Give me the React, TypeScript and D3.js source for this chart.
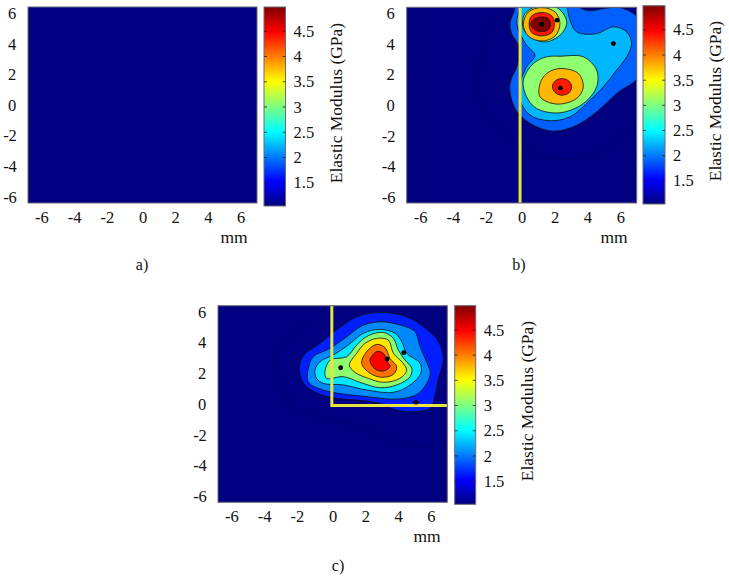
import React, { useEffect, useRef } from "react";
import * as d3 from "d3";

type Pt = [number, number];

// Axis ticks
const xTicks = [-6, -4, -2, 0, 2, 4, 6];
const yTicks = [-6, -4, -2, 0, 2, 4, 6];
const barTicks = [1.5, 2, 2.5, 3, 3.5, 4, 4.5];
const barLabels = ["1.5", "2", "2.5", "3", "3.5", "4", "4.5"];

// Panel b) contour outlines (mm)
const bBlue: Pt[] = [[-0.2, 6.64], [-0.51, 5.99], [-0.71, 5.34], [-0.61, 4.68], [-0.2, 3.92], [-0.1, 3.38], [-0.3, 2.51], [-0.71, 1.42], [-0.61, 0.33], [-0.2, -0.54], [0.71, -1.31], [1.93, -1.7], [3.35, -1.31], [4.56, -0.44], [5.78, 0.76], [7.2, 1.96], [7.4, 4.5], [7.2, 5.56], [6.8, 5.99], [5.98, 6.38], [4.97, 6.32], [4.16, 6.17], [3.55, 6.38], [3.45, 6.64]];
const bLight: Pt[] = [[0.2, 6.64], [-0.2, 5.99], [-0.3, 5.34], [-0.1, 4.68], [0.3, 3.92], [0.81, 3.27], [0.3, 2.51], [-0.1, 1.42], [-0.1, 0.33], [0.51, -0.65], [1.72, -1.02], [2.94, -0.76], [4.16, 0.33], [4.97, 1.2], [5.78, 2.29], [6.39, 3.16], [6.69, 4.03], [6.39, 4.79], [5.58, 5.12], [4.56, 4.68], [3.35, 4.79], [2.94, 5.56], [2.74, 6.38], [2.54, 6.64]];
const bGreenLow: Pt[] = [[1.52, 3.16], [2.33, 3.2], [3.75, 3.16], [4.56, 2.29], [4.56, 1.2], [3.75, 0.11], [2.33, -0.5], [0.91, -0.22], [0.3, 0.54], [0.1, 1.63], [0.71, 2.72]];
const bGreenTop: Pt[] = [[1.22, 6.54], [2.23, 6.32], [2.74, 5.45], [2.43, 4.68], [1.52, 4.14], [0.71, 4.36], [0.1, 5.01], [0.2, 5.99]];
const bAmberLow: Pt[] = [[1.52, 2.07], [2.33, 2.4], [3.45, 2.07], [3.75, 1.2], [3.35, 0.44], [2.13, 0.07], [1.12, 0.54], [1.12, 1.42]];
const bAmberTop: Pt[] = [[1.22, 6.38], [2.03, 6.1], [2.33, 5.34], [2.03, 4.51], [1.22, 4.2], [0.41, 4.51], [0.1, 5.29], [0.41, 6.1]];
const bRedLow: Pt[] = [[2.43, 1.74], [2.88, 1.57], [3.04, 1.2], [2.88, 0.81], [2.43, 0.65], [2.03, 0.83], [1.87, 1.24], [2.03, 1.57]];
const bRedTop: Pt[] = [[1.22, 6.06], [1.83, 5.84], [1.99, 5.29], [1.83, 4.75], [1.22, 4.53], [0.61, 4.75], [0.45, 5.29], [0.61, 5.84]];
const bDarkTop: Pt[] = [[1.22, 5.77], [1.62, 5.66], [1.75, 5.29], [1.62, 4.92], [1.22, 4.82], [0.81, 4.92], [0.54, 5.29], [0.81, 5.66]];
const bFaint: Pt[] = [[-1.93, 5.56], [-2.43, 3.16], [-2.7, 1.42], [-2.23, -0.54], [-0.71, -2.29], [0.91, -3.27], [2.33, -3.55], [3.96, -3.27], [5.38, -2.51], [6.39, -1.74], [7.1, -1.09]];
const bDots: Pt[] = [[1.22, 5.29], [2.15, 5.56], [5.58, 4.03], [2.35, 1.11]];
const bYellow: Pt[] = [[-0.1, 6.4], [-0.1, -6.4]];

// Panel c) contour outlines (mm)
const cBlue: Pt[] = [[-2.04, 2.32], [-1.75, 3.19], [-0.77, 3.95], [0.24, 4.82], [1.47, 5.68], [2.89, 5.97], [4.52, 5.68], [5.54, 5.03], [6.46, 4.06], [6.76, 2.97], [6.46, 1.67], [6.25, 0.59], [5.95, -0.28], [4.93, -0.5], [3.91, -0.39], [2.89, 0.04], [1.47, 0.26], [0.24, 0.37], [-0.77, 0.63], [-1.69, 1.24]];
const cMid: Pt[] = [[-1.49, 2.28], [-1.18, 3.08], [-0.16, 3.62], [0.86, 4.38], [1.77, 5.08], [2.89, 5.36], [4.11, 5.14], [5.03, 4.71], [5.3, 3.84], [5.64, 2.97], [5.95, 2.1], [5.85, 1.56], [5.23, 0.69], [4.11, 0.33], [2.08, 0.48], [-0.57, 0.91], [-1.49, 1.45]];
const cCyan: Pt[] = [[-1.08, 2.21], [-0.77, 2.75], [0.04, 3.19], [0.96, 3.84], [1.87, 4.6], [2.89, 4.86], [3.81, 4.6], [4.22, 4.06], [4.52, 3.3], [5.34, 2.65], [5.38, 2.0], [4.73, 1.24], [3.71, 0.76], [2.08, 0.91], [0.65, 1.24], [-0.57, 1.34], [-0.98, 1.67]];
const cGreen: Pt[] = [[-0.47, 2.1], [-0.16, 2.86], [0.86, 3.08], [1.47, 3.84], [2.18, 4.45], [3.1, 4.66], [3.71, 4.27], [4.01, 3.51], [4.42, 2.86], [4.83, 2.32], [4.73, 1.78], [3.91, 1.24], [2.89, 1.06], [1.67, 1.41], [0.65, 1.78], [-0.37, 1.67]];
const cYellow: Pt[] = [[1.02, 2.54], [1.47, 3.3], [1.98, 3.95], [2.69, 4.27], [3.4, 4.16], [3.71, 3.3], [4.22, 2.75], [4.52, 2.21], [4.11, 1.67], [3.1, 1.41], [2.18, 1.67], [1.36, 2.06]];
const cOrange: Pt[] = [[1.77, 2.65], [2.08, 3.41], [2.69, 3.88], [3.2, 3.67], [3.5, 2.97], [3.91, 2.43], [3.71, 1.93], [2.99, 1.74], [2.28, 2.0]];
const cRed: Pt[] = [[2.28, 2.86], [2.69, 3.41], [3.1, 3.3], [3.34, 2.75], [3.5, 2.43], [3.1, 2.15], [2.59, 2.28]];
const cFaint: Pt[] = [[-1.59, 5.14], [-3.42, 3.41], [-3.52, 2.32], [-3.01, 0.8], [-2.3, -0.28], [-1.18, -0.72], [0.04, -1.11], [1.47, -1.48], [2.89, -2.02], [4.52, -2.67], [5.74, -2.78], [6.66, -2.56]];
const cDots: Pt[] = [[0.49, 2.36], [3.32, 2.93], [4.34, 3.34], [5.09, 0.11]];
const cYellowLine: Pt[] = [[-0.05, 6.4], [-0.05, -0.1], [7, -0.1]];

// Modulus of each filled band (GPa), drawn bottom to top
const bFills: { value: number; ring: Pt[] }[] = [
    { value: 1.9, ring: bBlue },
    { value: 2.24, ring: bLight },
    { value: 3.07, ring: bGreenLow },
    { value: 3.07, ring: bGreenTop },
    { value: 3.78, ring: bAmberLow },
    { value: 3.78, ring: bAmberTop },
    { value: 4.39, ring: bRedLow },
    { value: 4.39, ring: bRedTop },
    { value: 4.98, ring: bDarkTop },
];
const cFills: { value: number; ring: Pt[] }[] = [
    { value: 1.65, ring: cBlue },
    { value: 2.06, ring: cMid },
    { value: 2.42, ring: cCyan },
    { value: 3.07, ring: cGreen },
    { value: 3.6, ring: cYellow },
    { value: 4.05, ring: cOrange },
    { value: 4.49, ring: cRed },
];

const FONT = '"Liberation Serif", serif';
const BAR_MIN = 1.04;
const BAR_MAX = 4.98;

// jet colormap over the colour bar range
const jet = d3.scaleLinear<string>()
    .domain([0, 0.125, 0.375, 0.625, 0.875, 1].map(t => BAR_MIN + t * (BAR_MAX - BAR_MIN)))
    .range(["#000080", "#0000ff", "#00ffff", "#ffff00", "#ff0000", "#800000"]);

const panels = [
    {
        id: "a", plot: [28, 257, 7, 203], bar: [264, 285.5, 7, 206], mm: [234, 243], cap: [142, 270], barTitle: [336, 103],
        fills: [] as { value: number; ring: Pt[] }[], faint: null as Pt[] | null, dots: [] as Pt[], line: null as Pt[] | null,
    },
    {
        id: "b", plot: [406.7, 636.7, 7.3, 203], bar: [643, 665, 5.7, 204], mm: [614, 243], cap: [519, 270], barTitle: [715, 101],
        fills: bFills, faint: bFaint, dots: bDots, line: bYellow,
    },
    {
        id: "c", plot: [218, 447.3, 305.7, 502.3], bar: [454.7, 475.7, 305.7, 504.3], mm: [427, 542], cap: [338, 571], barTitle: [527, 401],
        fills: cFills, faint: cFaint, dots: cDots, line: cYellowLine,
    },
];

const App = () => {
    const svgRef = useRef<SVGSVGElement | null>(null);

    useEffect(() => {
        if (!svgRef.current) return;
        const svg = d3.select(svgRef.current);
        svg.selectAll("*").remove();

        // one gradient shared by the colour bars
        const grad = svg.append("defs").append("linearGradient")
            .attr("id", "jet").attr("x1", 0).attr("x2", 0).attr("y1", 1).attr("y2", 0);
        [0, 0.125, 0.375, 0.625, 0.875, 1].forEach(t => {
            grad.append("stop").attr("offset", t)
                .attr("stop-color", jet(BAR_MIN + t * (BAR_MAX - BAR_MIN)));
        });

        panels.forEach(p => {
            const [x0, x1, y0, y1] = p.plot;
            const x = d3.scaleLinear().domain([-7, 7]).range([x0, x1]);
            const y = d3.scaleLinear().domain([-6.4, 6.4]).range([y1, y0]);
            const g = svg.append("g");

            svg.select("defs").append("clipPath").attr("id", `clip-${p.id}`)
                .append("rect").attr("x", x0).attr("y", y0).attr("width", x1 - x0).attr("height", y1 - y0);

            g.append("rect")
                .attr("x", x0).attr("y", y0).attr("width", x1 - x0).attr("height", y1 - y0)
                .attr("fill", jet(BAR_MIN));

            const inner = g.append("g").attr("clip-path", `url(#clip-${p.id})`);
            const closed = d3.line<Pt>().x(d => x(d[0])).y(d => y(d[1])).curve(d3.curveCatmullRomClosed.alpha(0.5));
            const open = d3.line<Pt>().x(d => x(d[0])).y(d => y(d[1])).curve(d3.curveCatmullRom.alpha(0.5));

            if (p.faint) {
                inner.append("path").attr("d", open(p.faint)).attr("fill", "none")
                    .attr("stroke", "#000060").attr("stroke-width", 0.6);
            }
            p.fills.forEach(f => {
                inner.append("path").attr("d", closed(f.ring))
                    .attr("fill", jet(f.value))
                    .attr("stroke", "#101010").attr("stroke-width", 0.8);
            });
            if (p.line) {
                const straight = d3.line<Pt>().x(d => x(d[0])).y(d => y(d[1]));
                inner.append("path").attr("d", straight(p.line)).attr("fill", "none")
                    .attr("stroke", "#e6e63c").attr("stroke-width", 3);
            }
            inner.selectAll("circle.dot").data(p.dots).enter().append("circle")
                .attr("class", "dot")
                .attr("cx", d => x(d[0])).attr("cy", d => y(d[1])).attr("r", 2.4)
                .attr("fill", "#000");

            g.append("rect")
                .attr("x", x0).attr("y", y0).attr("width", x1 - x0).attr("height", y1 - y0)
                .attr("fill", "none").attr("stroke", "#6a6a72").attr("stroke-width", 1);

            // x / y axes, labels only: the ticks vanish against the navy field
            g.append("g").attr("transform", `translate(0,${y1})`)
                .call(d3.axisBottom(x).tickValues(xTicks).tickSize(0).tickPadding(8).tickFormat(d => String(d)))
                .call(ax => ax.select(".domain").remove())
                .call(ax => ax.selectAll(".tick text")
                    .attr("fill", "#111").attr("font-size", "16.5px").attr("font-family", FONT)
                    .attr("dx", d => (+(d as number) < 0 ? -3 : 0)));
            // y labels are centred in their column, not right aligned
            g.append("g").attr("transform", `translate(${x0},0)`)
                .call(d3.axisLeft(y).tickValues(yTicks).tickSize(0).tickFormat(d => String(d)))
                .call(ax => ax.select(".domain").remove())
                .call(ax => ax.selectAll(".tick text")
                    .attr("text-anchor", "middle")
                    .attr("x", d => (+(d as number) < 0 ? -18 : -16))
                    .attr("fill", "#111").attr("font-size", "16.5px").attr("font-family", FONT));

            // colour bar
            const [bx0, bx1, by0, by1] = p.bar;
            const bar = d3.scaleLinear().domain([BAR_MIN, BAR_MAX]).range([by1, by0]);
            g.append("rect")
                .attr("x", bx0).attr("y", by0).attr("width", bx1 - bx0).attr("height", by1 - by0)
                .attr("fill", "url(#jet)").attr("stroke", "#6a6a72").attr("stroke-width", 1);
            barTicks.forEach((t, i) => {
                g.append("line").attr("x1", bx0).attr("x2", bx0 + 3).attr("y1", bar(t)).attr("y2", bar(t))
                    .attr("stroke", "#222").attr("stroke-width", 0.8);
                g.append("line").attr("x1", bx1 - 3).attr("x2", bx1).attr("y1", bar(t)).attr("y2", bar(t))
                    .attr("stroke", "#222").attr("stroke-width", 0.8);
                g.append("text").attr("x", bx1 + 8).attr("y", bar(t)).attr("dy", "0.34em")
                    .attr("fill", "#111").attr("font-size", "16.5px").attr("font-family", FONT)
                    .text(barLabels[i]);
            });
            g.append("text")
                .attr("transform", `translate(${p.barTitle[0]},${p.barTitle[1]}) rotate(-90)`)
                .attr("text-anchor", "middle").attr("dy", "0.34em")
                .attr("fill", "#111").attr("font-size", "17.5px").attr("font-family", FONT)
                .text("Elastic Modulus (GPa)");

            g.append("text").attr("x", p.mm[0]).attr("y", p.mm[1]).attr("text-anchor", "middle")
                .attr("fill", "#111").attr("font-size", "17.5px").attr("font-family", FONT).text("mm");
            g.append("text").attr("x", p.cap[0]).attr("y", p.cap[1]).attr("text-anchor", "middle")
                .attr("fill", "#111").attr("font-size", "16px").attr("font-family", FONT).text(`${p.id})`);
        });
    }, []);

    return (
        <svg
            ref={svgRef}
            width={729}
            height={579}
            style={{ position: "absolute", left: 0, top: 0, background: "#fff" }}
        />
    );
};

export default App;
